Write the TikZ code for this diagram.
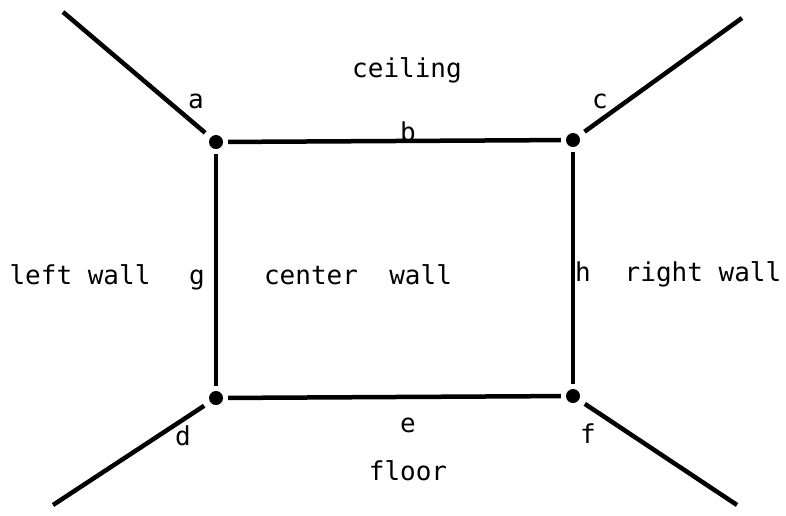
\documentclass[tikz,border=0pt]{standalone}
\usepackage{fontspec}
\setmainfont{DejaVu Sans Mono}
\begin{document}
\begin{tikzpicture}[x=1pt,y=-1pt,
  corner/.style={circle,fill=black,minimum size=14pt,inner sep=0pt},
  label/.style={anchor=mid,inner sep=0pt,font=\fontsize{26}{28}\selectfont},
  edge/.style={line width=4.5pt,shorten <=5pt,shorten >=5pt},
  ray/.style={line width=4.5pt,shorten <=7pt}]
\useasboundingbox (0,0) rectangle (786,515);
% corners of the center wall
\node[corner] (tl) at (216,142) {};
\node[corner] (tr) at (573,140) {};
\node[corner] (bl) at (216,398) {};
\node[corner] (br) at (573,396) {};
% far ends of the room edges
\coordinate (atop) at (63,12);
\coordinate (ctop) at (742,18);
\coordinate (dbot) at (53,505);
\coordinate (fbot) at (737,505);
\draw[edge] (tl) -- (tr);
\draw[edge] (bl) -- (br);
\draw[edge] (tl) -- (bl);
\draw[edge] (tr) -- (br);
\draw[ray] (tl) -- (atop);
\draw[ray] (tr) -- (ctop);
\draw[ray] (bl) -- (dbot);
\draw[ray] (br) -- (fbot);
% labels
\node[label] (ceiling) at (407,75) {ceiling};
\node[label] (floor) at (408,478) {floor};
\node[label] (leftwall) at (80,282) {left wall};
\node[label] (centerwall) at (358,282) {center\ \ wall};
\node[label] (rightwall) at (703,279) {right wall};
\node[label] (la) at (196,106) {a};
\node[label] (lb) at (408,139) {b};
\node[label] (lc) at (600,106) {c};
\node[label] (ld) at (183,443) {d};
\node[label] (le) at (408,430) {e};
\node[label] (lf) at (588,441) {f};
\node[label] (lg) at (197,282) {g};
\node[label] (lh) at (583,279) {h};
\end{tikzpicture}
\end{document}
